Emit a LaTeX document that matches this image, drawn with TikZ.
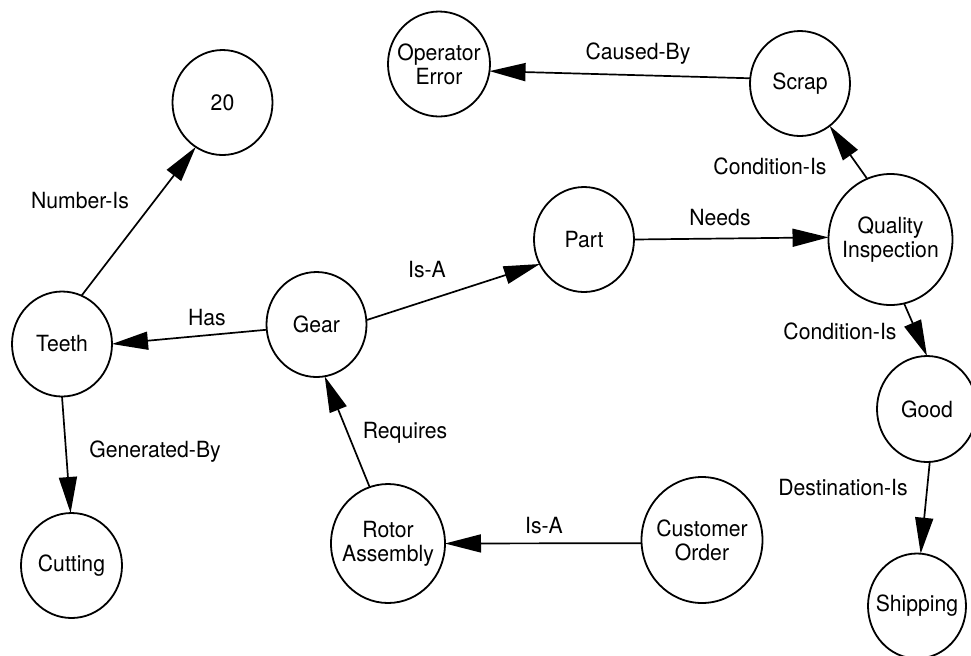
\documentclass[tikz,border=0pt]{standalone}
\usepackage{fontspec}
\setmainfont{TeX Gyre Heros}[FakeStretch=0.95]
\usetikzlibrary{shapes.geometric,arrows.meta}
\begin{document}
\begin{tikzpicture}[x=0.5pt, y=-0.5pt,
  concept/.style 2 args={ellipse, draw, line width=0.9pt, inner sep=0pt, outer sep=0pt,
    minimum width={#1*0.5pt}, minimum height={#2*0.5pt}},
  ntext/.style={align=center, inner sep=0pt, font=\fontsize{11.15}{12}\selectfont},
  rel/.style={-{Triangle[length=18pt,width=9pt]}, line width=0.85pt},
  lbl/.style={anchor=base, inner sep=0pt, font=\fontsize{11.15}{12}\selectfont}
]
\useasboundingbox (0,0) rectangle (971,655);

% concept nodes (centre in px, diameters in px)
\node[concept={100}{105}] (n20)   at (222.5,102.5) {};
\node[concept={102}{105}] (operr) at (439,64) {};
\node[concept={100}{105}] (scrap) at (800,83.5) {};
\node[concept={100}{105}] (part)  at (584,239.5) {};
\node[concept={124}{131}] (qi)    at (890.5,239.5) {};
\node[concept={100}{105}] (teeth) at (62,344) {};
\node[concept={100}{105}] (gear)  at (316.5,324.5) {};
\node[concept={100}{106}] (good)  at (927,409) {};
\node[concept={101}{105}] (cut)   at (71.5,565.5) {};
\node[concept={114}{119}] (rotor) at (388,543.5) {};
\node[concept={121}{126}] (cust)  at (702,540) {};
\node[concept={98}{105}]  (ship)  at (917,606) {};

% node texts
\node[ntext] (n20t)   at (n20)   {20};
\node[ntext] (operrt) at (operr) {Operator\\Error};
\node[ntext] (scrapt) at (scrap) {Scrap};
\node[ntext] (partt)  at (part)  {Part};
\node[ntext] (qit)    at (qi)    {Quality\\Inspection};
\node[ntext] (teetht) at (teeth) {Teeth};
\node[ntext] (geart)  at (gear)  {Gear};
\node[ntext] (goodt)  at (good)  {Good};
\node[ntext] (cutt)   at (cut)   {Cutting};
\node[ntext] (rotort) at (rotor) {Rotor\\Assembly};
\node[ntext] (custt)  at (cust)  {Customer\\Order};
\node[ntext] (shipt)  at (ship)  {Shipping};

% connectors
\draw[rel] (teeth.68.6)  -- (n20.239.9);
\draw[rel] (gear.186.4)  -- (teeth.0);
\draw[rel] (gear.5.9)    -- (part.209.1);
\draw[rel] (part.0)      -- (qi.178);
\draw[rel] (qi.111.3)    -- (scrap.305.3);
\draw[rel] (scrap.174.8) -- (operr.352.9);
\draw[rel] (qi.282.9)    -- (good.90);
\draw[rel] (good.273.2)  -- (ship.86.6);
\draw[rel] (teeth.270)   -- (cut.91.6);
\draw[rel] (rotor.108)   -- (gear.279);
\draw[rel] (cust.183)    -- (rotor.0);

% connector labels (x centre, baseline)
\node[lbl] (l1)  at (80,208)  {Number-Is};
\node[lbl] (l2)  at (207,325) {Has};
\node[lbl] (l3)  at (427,277) {Is-A};
\node[lbl] (l4)  at (720,225) {Needs};
\node[lbl] (l5)  at (770,174) {Condition-Is};
\node[lbl] (l6)  at (638,59)  {Caused-By};
\node[lbl] (l7)  at (840,339) {Condition-Is};
\node[lbl] (l8)  at (843,495) {Destination-Is};
\node[lbl] (l9)  at (544,533) {Is-A};
\node[lbl] (l10) at (405,438) {Requires};
\node[lbl] (l11) at (155,457) {Generated-By};
\end{tikzpicture}
\end{document}
